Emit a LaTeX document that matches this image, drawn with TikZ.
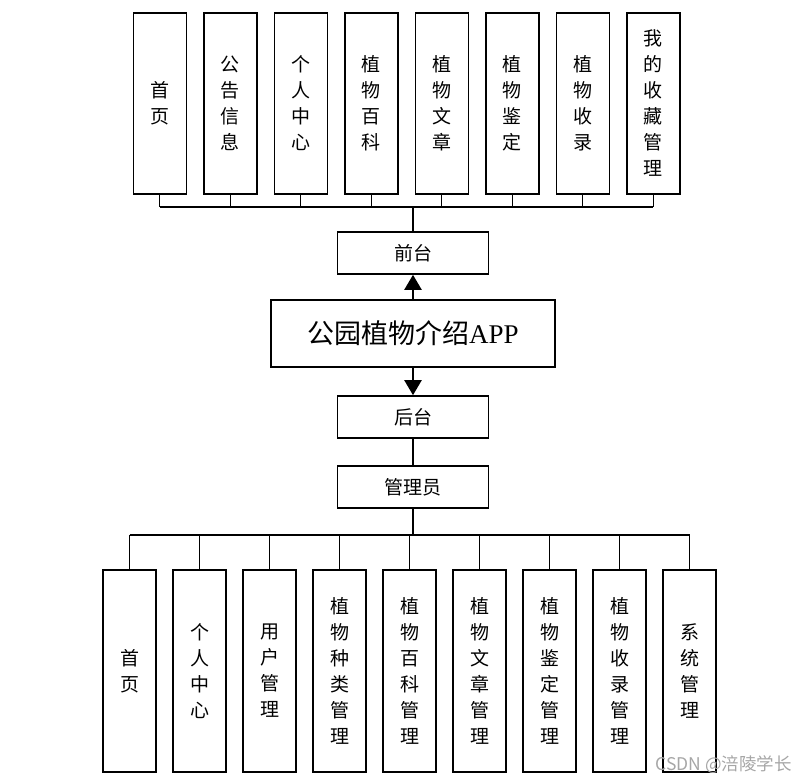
\documentclass[tikz,border=0pt]{standalone}
\usepackage{fontspec}
\setmainfont{Liberation Serif}
\newfontfamily\cjk{Noto Sans CJK SC}
\usetikzlibrary{arrows.meta}
\begin{document}
\begin{tikzpicture}[x=1pt,y=-1pt,
  vbox/.style={draw, line width=1.6pt, inner sep=0pt, minimum width=53pt, anchor=north west,
    font=\cjk\fontsize{19}{26}\selectfont, align=center},
  hbox/.style={draw, line width=1.6pt, inner sep=0pt, minimum width=151pt, minimum height=42pt,
    font=\cjk\fontsize{19}{22}\selectfont},
  conn/.style={line width=1.3pt},
  thick conn/.style={line width=2.8pt},
  arr/.style={line width=2.2pt, -{Triangle[length=15pt,width=17pt]}}]
\useasboundingbox (0,0) rectangle (807,784);
% top boxes
\foreach \i/\x/\t in {1/132.5/{首\\页},2/203/{公\\告\\信\\息},3/273.5/{个\\人\\中\\心},4/344/{植\\物\\百\\科},
  5/414.5/{植\\物\\文\\章},6/485/{植\\物\\鉴\\定},7/555.5/{植\\物\\收\\录},8/626/{我\\的\\收\\藏\\管\\理}}
  \node[vbox, minimum height=181pt] (t\i) at (\x,12) {\t};
% middle
\node[hbox] (qt) at (413,253) {前台};
\node[draw, line width=1.6pt, inner sep=0pt, minimum width=284pt, minimum height=67pt,
  font=\fontsize{27}{30}\selectfont] (app) at (413,333.5) {{\cjk 公园植物介绍}APP};
\node[hbox] (ht) at (413,417) {后台};
\node[hbox] (gly) at (413,487) {管理员};
% bottom boxes
\foreach \i/\x/\t in {1/102.3/{首\\页},2/172.3/{个\\人\\中\\心},3/242.3/{用\\户\\管\\理},4/312.3/{植\\物\\种\\类\\管\\理},
  5/382.3/{植\\物\\百\\科\\管\\理},6/452.3/{植\\物\\文\\章\\管\\理},7/522.3/{植\\物\\鉴\\定\\管\\理},
  8/592.3/{植\\物\\收\\录\\管\\理},9/662.3/{系\\统\\管\\理}}
  \node[vbox, minimum height=202pt] (b\i) at (\x,569) {\t};
% top bus
\coordinate (tbus) at (413,207);
\foreach \i in {1,...,8} \draw[conn] (t\i.south) -- (t\i.south |- tbus);
\draw[conn] (t1.south |- tbus) -- (t8.south |- tbus);
\draw[thick conn] (qt.north |- tbus) -- (qt.north);
% arrows
\draw[arr] (app.north) -- (qt.south);
\draw[arr] (app.south) -- (ht.north);
\draw[conn] (ht.south) -- (gly.north);
% bottom bus
\coordinate (bbus) at (413,535);
\draw[conn] (gly.south) -- (gly.south |- bbus);
\draw[conn] (b1.north |- bbus) -- (b9.north |- bbus);
\foreach \i in {1,...,9} \draw[conn] (b\i.north |- bbus) -- (b\i.north);
% watermark
\node[anchor=east, text=black!35, font=\cjk\fontsize{17.5}{20}\selectfont, inner sep=0pt] (wm) at (792,765) {CSDN @涪陵学长};
\end{tikzpicture}
\end{document}
